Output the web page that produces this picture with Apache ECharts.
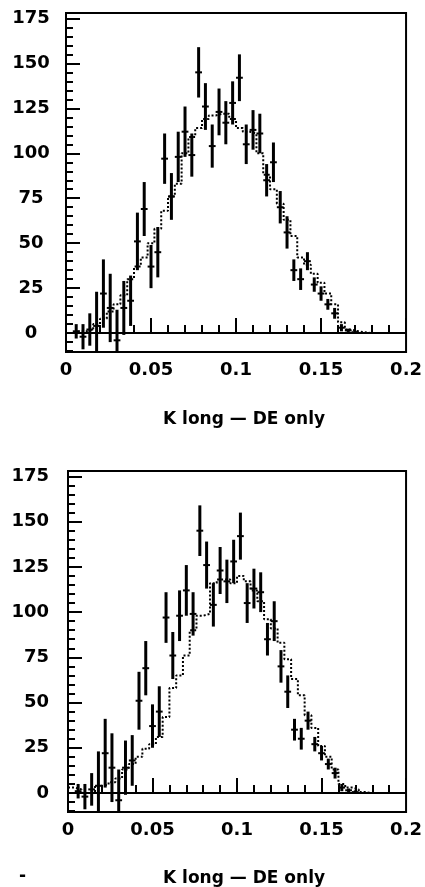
<!DOCTYPE html>
<html><head><meta charset="utf-8">
<script src="https://cdn.jsdelivr.net/npm/echarts@6/dist/echarts.min.js"></script>
<style>html,body{margin:0;padding:0;background:#fff}#c{width:425px;height:887px}</style>
</head><body><div id="c"></div>
<script>
// ---- data ----
const binWidth = 0.004;          // histogram bin width
const nBins = 50;                // bins from 0 to 0.2
const dataX = [0.006,0.010,0.014,0.018,0.022,0.026,0.030,0.034,0.038,0.042,0.046,0.050,0.054,0.058,0.062,0.066,0.070,0.074,0.078,0.082,0.086,0.090,0.094,0.098,0.102,0.106,0.110,0.114,0.118,0.122,0.126,0.130,0.134,0.138,0.142,0.146,0.150,0.154,0.158,0.162,0.166,0.170];
const dataValues = [1,-2,2,4,22,14,-4,14,18,51,69,37,45,97,76,98,112,99,145,126,104,123,117,128,142,105,113,111,85,95,70,56,35,30,40,27,22,16,11,3,1.5,0.5];
const dataErrors = [4,7,9,19,19,19,17,15,14,16,15,12,14,14,13,14,14,12,14,13,12,13,12,12,13,11,11,11,9,11,9,9,6,6,5,4,4,3,3,2,1,1];
const mcTop = [0,1,1,2,5,8,12,16,21,30,37,42,50,58,68,76,83,100,109,114,119,121,122,122,119,114,112,111,100,88,80,72,63,54,42,38,33,28,22,16,6,2,1,0.5,0,0,0,0,0,0];
const mcBottom = [3,2,0,0,4,4.5,6,8,13,16,20,24.5,27,31,42,58,65,76,90,98,99,116,118,118,116,120,117,112,106,96,91,83,74,63,54,43,36,26,20,13,5,3,2,0.5,0,0,0,0,0,0];
const xTicks = [0,0.05,0.1,0.15,0.2];
const yTicks = [0,25,50,75,100,125,150,175];
const yMinorTicks = [-10,-5,5,10,15,20,30,35,40,45,55,60,65,70,80,85,90,95,105,110,115,120,130,135,140,145,155,160,165,170];
const xTitle = 'K long — DE only';

// ---- build ----
const edges = [];
for (let i = 0; i <= nBins; i++) edges.push(+(i * binWidth).toFixed(4));
function stepData(vals){ return edges.map((e,i)=>[e, vals[Math.min(i, vals.length-1)]]); }
const points = dataX.map((x,i)=>[x, dataValues[i], dataErrors[i]]);

const FONT = 'DejaVu Sans';
function renderErr(params, api){
  const x = api.value(0), v = api.value(1), e = api.value(2);
  const c = api.coord([x, v]);
  const t = api.coord([x, v + e]);
  const b = api.coord([x, v - e]);
  const hw = api.size([binWidth, 0])[0] * 0.5;
  const cs = params.coordSys;
  const cl = y => Math.max(cs.y, Math.min(cs.y + cs.height, y));
  return {type:'group', children:[
    {type:'line', shape:{x1:c[0], y1:cl(t[1]), x2:c[0], y2:cl(b[1])}, style:{stroke:'#000', lineWidth:3}},
    {type:'line', shape:{x1:c[0]-hw, y1:c[1], x2:c[0]+hw, y2:c[1]}, style:{stroke:'#000', lineWidth:2}}
  ]};
}

const grids = [
  {left:66, right:17, top:13, height:339, show:true, borderColor:'#000', borderWidth:2, backgroundColor:'transparent'},
  {left:68, right:16, top:471, height:341, show:true, borderColor:'#000', borderWidth:2, backgroundColor:'transparent'}
];
const labelStyle = {color:'#000', fontFamily:FONT, fontWeight:'bold', fontSize:18};
function xAxis(gi){
  return {type:'value', gridIndex:gi, min:0, max:0.2, interval:0.05,
    axisLine:{show:true, lineStyle:{color:'#000', width:2}},
    axisTick:{show:true, inside:true, length:15, lineStyle:{color:'#000', width:2}},
    minorTick:{show:true, splitNumber:5, length:8, lineStyle:{color:'#000', width:2}},
    splitLine:{show:false}, minorSplitLine:{show:false},
    axisLabel:Object.assign({margin:9, showMinLabel:true, showMaxLabel:true,
      formatter: v => xTicks.includes(+v.toFixed(3)) ? String(+v.toFixed(3)) : ''}, labelStyle)};
}
function yAxes(gi, labelOpt){
  return [
    {type:'value', gridIndex:gi, min:-10.5, max:178, position:'left',
     axisLine:{show:true, lineStyle:{color:'#000', width:2}},
     axisTick:{show:true, inside:true, length:14, customValues:yTicks, lineStyle:{color:'#000', width:2}},
     splitLine:{show:false},
     axisLabel:Object.assign({customValues:yTicks}, labelStyle, labelOpt)},
    {type:'value', gridIndex:gi, min:-10.5, max:178, position:'left', offset:0,
     axisLine:{show:false},
     axisTick:{show:true, inside:true, length:7, customValues:yMinorTicks, lineStyle:{color:'#000', width:2}},
     splitLine:{show:false},
     axisLabel:{show:false}}
  ];
}

const titleStyle = {fontFamily:FONT, fontWeight:'bold', fontSize:17, color:'#000'};
const option = {
  animation:false,
  backgroundColor:'#fff',
  grid: grids,
  xAxis:[xAxis(0), xAxis(1)],
  yAxis:[...yAxes(0, {align:'center', margin:35}), ...yAxes(1, {align:'right', margin:19})],
  title:[
    {text:xTitle, left:158, top:406, textStyle:titleStyle},
    {text:xTitle, left:158, top:865, textStyle:titleStyle},
    {text:'-', left:14, top:863, textStyle:titleStyle}
  ],
  series:[
    {type:'line', xAxisIndex:0, yAxisIndex:0, data:stepData(mcTop), step:'end', symbol:'none',
     lineStyle:{color:'#000', width:2, type:[2,2]}},
    {type:'custom', xAxisIndex:0, yAxisIndex:0, data:points, renderItem:renderErr},
    {type:'line', xAxisIndex:1, yAxisIndex:2, data:stepData(mcBottom), step:'end', symbol:'none',
     lineStyle:{color:'#000', width:2, type:[2,2]}},
    {type:'custom', xAxisIndex:1, yAxisIndex:2, data:points, renderItem:renderErr}
  ]
};
const chart = echarts.init(document.getElementById('c'), null, {renderer:'canvas'});
chart.setOption(option);
</script></body></html>
